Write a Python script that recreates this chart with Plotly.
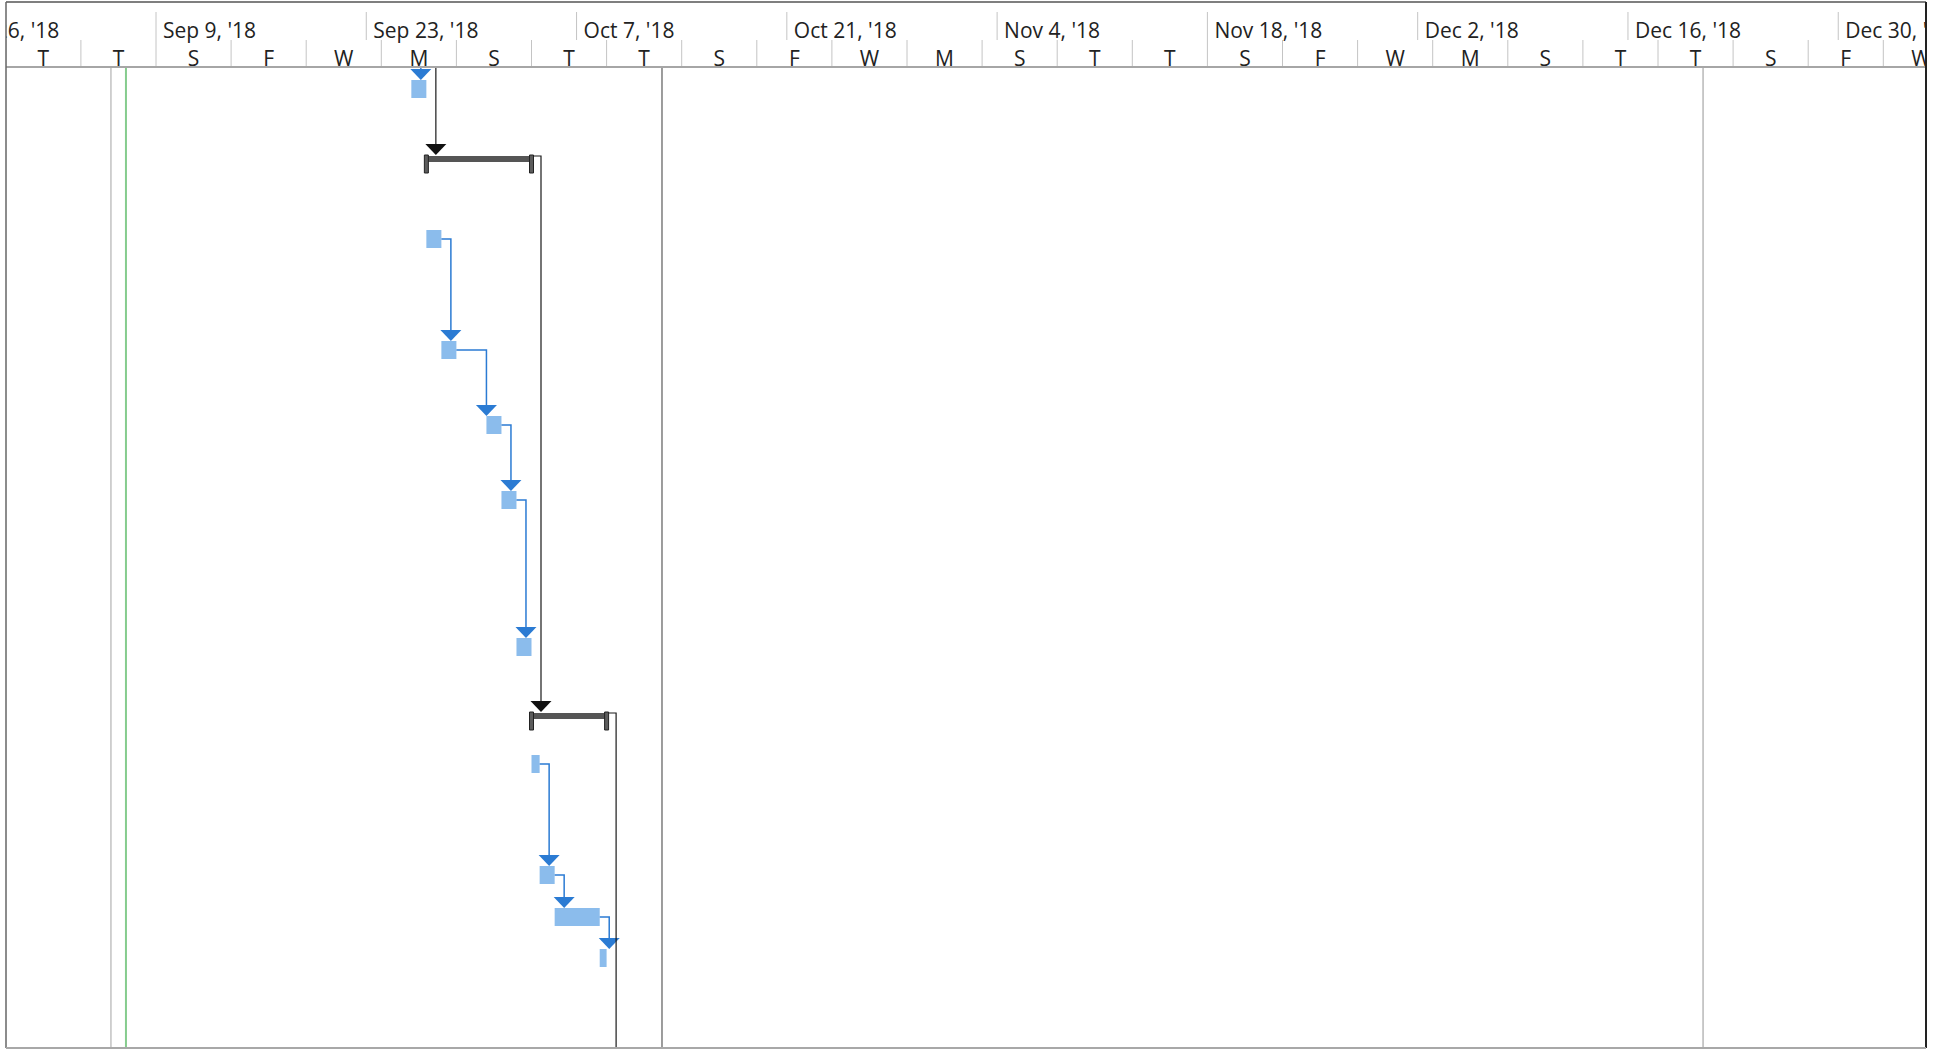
import datetime as dt
import plotly.graph_objects as go

# ---- timescale ----
MAJOR_DATES = ["2018-08-26", "2018-09-09", "2018-09-23", "2018-10-07", "2018-10-21",
               "2018-11-04", "2018-11-18", "2018-12-02", "2018-12-16", "2018-12-30"]
MAJOR_LABELS = ["Aug 26, '18", "Sep 9, '18", "Sep 23, '18", "Oct 7, '18", "Oct 21, '18",
                "Nov 4, '18", "Nov 18, '18", "Dec 2, '18", "Dec 16, '18", "Dec 30, '18"]
MINOR_START = "2018-08-30"
MINOR_STEP_DAYS = 5
MINOR_LABELS = ["T", "T", "S", "F", "W", "M", "S", "T", "T", "S", "F", "W", "M",
                "S", "T", "T", "S", "F", "W", "M", "S", "T", "T", "S", "F", "W"]

# ---- tasks, top to bottom ----
TASK_START = ["2018-09-26", "2018-09-27", "2018-09-27", "2018-09-28", "2018-10-01", "2018-10-02",
              "2018-10-03", "2018-10-04", "2018-10-04 00:00", "2018-10-04 13:00",
              "2018-10-05 13:00", "2018-10-08 13:00"]
TASK_FINISH = ["2018-09-27", "2018-10-04", "2018-09-28", "2018-09-29", "2018-10-02", "2018-10-03",
               "2018-10-04", "2018-10-09", "2018-10-04 13:00", "2018-10-05 13:00",
               "2018-10-08 13:00", "2018-10-09"]
TASK_SUMMARY = [False, True, False, False, False, False, False, True, False, False, False, False]

# links (None = task outside the visible area)
LINK_PRED = [None, None, 1, 2, 3, 4, 5, 8, 9, 10, 7]
LINK_SUCC = [0, 1, 7, 3, 4, 5, 6, 9, 10, 11, None]

# vertical lines in the chart body
GRID_DATES = ["2018-09-06", "2018-10-12 16:30", "2018-12-21"]
GRID_COLORS = ["#c2c2c2", "#7c7c7c", "#b8b8b8"]
CURRENT_DATE = "2018-09-07"

# ---- layout constants (pixels) ----
W, H = 1939, 1049
ML, MR, MT, MB = 6, 13, 2, 1
PX_PER_DAY = 15.02
ORIGIN = dt.datetime(2018, 9, 9)
ORIGIN_PX = 156
ROW_HEIGHTS = [75, 75, 111, 75, 75, 147, 74, 43, 111, 42, 41, 112]
HEADER = 65
BODY = H - MT - MB - HEADER

FONT = "Segoe UI, Open Sans, sans-serif"


def d(s):
    return dt.datetime.fromisoformat(s)


def shift(t, px):
    return t + dt.timedelta(days=px / PX_PER_DAY)


x0 = shift(ORIGIN, ML - ORIGIN_PX)
x1 = shift(x0, W - ML - MR)

row_top = []
acc = 0
for h in ROW_HEIGHTS:
    row_top.append(acc)
    acc += h

starts = [d(s) for s in TASK_START]
finishes = [d(s) for s in TASK_FINISH]

fig = go.Figure()
shapes = []

# background vertical lines
for g, c in zip(GRID_DATES, GRID_COLORS):
    shapes.append(dict(type="line", xref="x", yref="y", x0=d(g), x1=d(g), y0=0, y1=BODY,
                       line=dict(color=c, width=1.5), layer="below"))
shapes.append(dict(type="line", xref="x", yref="y", x0=d(CURRENT_DATE), x1=d(CURRENT_DATE),
                   y0=0, y1=BODY, line=dict(color="#86cc8e", width=2), layer="below"))

# header ticks
for md in MAJOR_DATES:
    shapes.append(dict(type="line", xref="x", yref="y", x0=d(md), x1=d(md), y0=-55, y1=-27,
                       line=dict(color="#c4c4c4", width=1)))
minor_edges = [d(MINOR_START) + dt.timedelta(days=MINOR_STEP_DAYS * i) for i in range(len(MINOR_LABELS) + 1)]
for me in minor_edges:
    shapes.append(dict(type="line", xref="x", yref="y", x0=me, x1=me, y0=-27, y1=0,
                       line=dict(color="#c4c4c4", width=1)))
shapes.append(dict(type="line", xref="paper", yref="y", x0=0, x1=1, y0=0, y1=0,
                   line=dict(color="#a6a6a6", width=2)))

# borders
shapes.append(dict(type="line", xref="paper", yref="paper", x0=0, x1=1, y0=1, y1=1, line=dict(color="#555", width=1.5)))
shapes.append(dict(type="line", xref="paper", yref="paper", x0=0, x1=0, y0=0, y1=1, line=dict(color="#666", width=1.5)))
shapes.append(dict(type="line", xref="paper", yref="paper", x0=1, x1=1, y0=0, y1=1, line=dict(color="#222", width=2)))
shapes.append(dict(type="line", xref="paper", yref="paper", x0=0, x1=1, y0=0, y1=0, line=dict(color="#a8a8a8", width=2)))

# header labels
fig.add_trace(go.Scatter(
    x=[shift(d(m), 7) for m in MAJOR_DATES], y=[-34.5] * len(MAJOR_DATES),
    mode="text", text=MAJOR_LABELS, textposition="middle right",
    textfont=dict(family=FONT, size=21, color="#222"), hoverinfo="skip"))
fig.add_trace(go.Scatter(
    x=[minor_edges[i] + (minor_edges[i + 1] - minor_edges[i]) / 2 for i in range(len(MINOR_LABELS))],
    y=[-6] * len(MINOR_LABELS),
    mode="text", text=MINOR_LABELS, textposition="middle center",
    textfont=dict(family=FONT, size=21, color="#222"), hoverinfo="skip"))


def poly(xs, ys, color, line_color=None, lw=0):
    fig.add_trace(go.Scatter(x=xs, y=ys, mode="lines", fill="toself", fillcolor=color,
                             line=dict(color=line_color or color, width=lw), hoverinfo="skip"))


# task bars
bx, by = [], []
for i in range(len(starts)):
    if TASK_SUMMARY[i]:
        continue
    c = row_top[i] + 22
    bx += [starts[i], finishes[i], finishes[i], starts[i], starts[i], None]
    by += [c - 9, c - 9, c + 9, c + 9, c - 9, None]
poly(bx, by, "#8bbcec")

# summary bars
sx, sy, cx, cy = [], [], [], []
for i in range(len(starts)):
    if not TASK_SUMMARY[i]:
        continue
    t = row_top[i]
    sx += [starts[i], finishes[i], finishes[i], starts[i], starts[i], None]
    sy += [t + 14, t + 14, t + 20, t + 20, t + 14, None]
    for e in (starts[i], finishes[i]):
        cx += [shift(e, -2), shift(e, 2), shift(e, 2), shift(e, -2), shift(e, -2), None]
        cy += [t + 13, t + 13, t + 31, t + 31, t + 13, None]
poly(sx, sy, "#555555")
poly(cx, cy, "#5c5c5c", "#222", 1)


# links
for p, s in zip(LINK_PRED, LINK_SUCC):
    summary_link = (p is not None and TASK_SUMMARY[p]) or (s is not None and TASK_SUMMARY[s])
    color = "#1a1a1a" if summary_link else "#2b7bd3"
    lw = 1.2 if summary_link else 1.5
    if p is None:
        lx = shift(starts[s], 9.5)
        xs, ys = [lx], [0]
    else:
        pend = shift(finishes[p], 2) if TASK_SUMMARY[p] else finishes[p]
        py = row_top[p] + (14 if TASK_SUMMARY[p] else 22)
        lx = shift(finishes[p], 9.5)
        if s is not None and starts[s] > lx:
            lx = starts[s]
        xs, ys = [pend, lx], [py, py]
    if s is None:
        xs.append(lx)
        ys.append(BODY)
        fig.add_trace(go.Scatter(x=xs, y=ys, mode="lines", line=dict(color=color, width=lw), hoverinfo="skip"))
        continue
    tip = row_top[s] + 13
    xs.append(lx)
    ys.append(tip - 11)
    fig.add_trace(go.Scatter(x=xs, y=ys, mode="lines", line=dict(color=color, width=lw), hoverinfo="skip"))
    poly([lx, shift(lx, -10.5), shift(lx, 10.5), lx], [tip, tip - 11, tip - 11, tip],
         "#111111" if summary_link else "#2b7bd3")

fig.update_layout(
    width=W, height=H,
    margin=dict(l=ML, r=MR, t=MT, b=MB),
    paper_bgcolor="white", plot_bgcolor="white",
    showlegend=False,
    shapes=shapes,
    xaxis=dict(type="date", range=[x0, x1], showgrid=False, zeroline=False,
               showticklabels=False, ticks="", fixedrange=True),
    yaxis=dict(range=[BODY, -HEADER], showgrid=False, zeroline=False,
               showticklabels=False, ticks="", fixedrange=True),
)

# page body has a default 8px margin; remove it so the chart sits at the window corner
fig.write_html("out.html", config={"displayModeBar": False},
               post_script="document.body.style.margin='0';")
